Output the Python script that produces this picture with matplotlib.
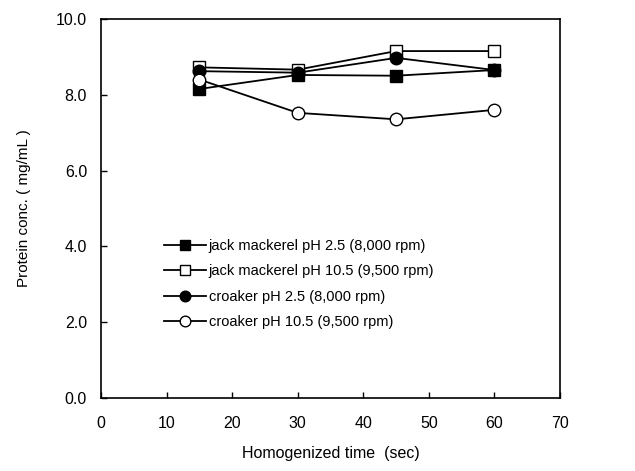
import matplotlib
matplotlib.use("Agg")
from matplotlib import pyplot as plt

plt.rcParams['font.family'] = ['Liberation Sans', 'DejaVu Sans']

# homogenized time (sec)
time_sec = [15, 30, 45, 60]

jack_ph25 = [8.15, 8.52, 8.5, 8.65]
jack_ph105 = [8.72, 8.66, 9.15, 9.15]
croaker_ph25 = [8.62, 8.58, 8.97, 8.65]
croaker_ph105 = [8.4, 7.52, 7.35, 7.6]

labels = ["jack mackerel pH 2.5 (8,000 rpm)",
          "jack mackerel pH 10.5 (9,500 rpm)",
          "croaker pH 2.5 (8,000 rpm)",
          "croaker pH 10.5 (9,500 rpm)"]

fig = plt.figure(figsize=(6.35, 4.71), dpi=100)
ax = fig.add_axes([0.159, 0.155, 0.723, 0.805])

ax.plot(time_sec, jack_ph25, color='k', lw=1.3, marker='s', ms=8.5, mfc='k', mec='k', label=labels[0])
ax.plot(time_sec, jack_ph105, color='k', lw=1.3, marker='s', ms=8.5, mfc='white', mec='k', label=labels[1])
ax.plot(time_sec, croaker_ph25, color='k', lw=1.3, marker='o', ms=9, mfc='k', mec='k', label=labels[2])
ax.plot(time_sec, croaker_ph105, color='k', lw=1.3, marker='o', ms=9, mfc='white', mec='k', label=labels[3])

ax.set_xlim(0, 70)
ax.set_ylim(0, 10)
ax.set_xticks(range(0, 71, 10))
ax.set_yticks([0, 2, 4, 6, 8, 10])
ax.set_yticklabels(["0.0", "2.0", "4.0", "6.0", "8.0", "10.0"])
ax.tick_params(direction='in', length=4, width=1, labelsize=11.5)
ax.tick_params(axis='x', pad=13)
ax.tick_params(axis='y', pad=10)
for s in ax.spines.values():
    s.set_linewidth(1.2)

ax.set_xlabel("Homogenized time  (sec)", fontsize=11.5, labelpad=11)
ax.set_ylabel("Protein conc. ( mg/mL )", fontsize=11, labelpad=18)

leg = ax.legend(loc='upper left', bbox_to_anchor=(0.125, 0.435), frameon=False, fontsize=10.5,
                handlelength=2.9, handletextpad=0.15, labelspacing=0.78, borderaxespad=0,
                markerscale=0.85)

fig.savefig("out.png", dpi=100)
